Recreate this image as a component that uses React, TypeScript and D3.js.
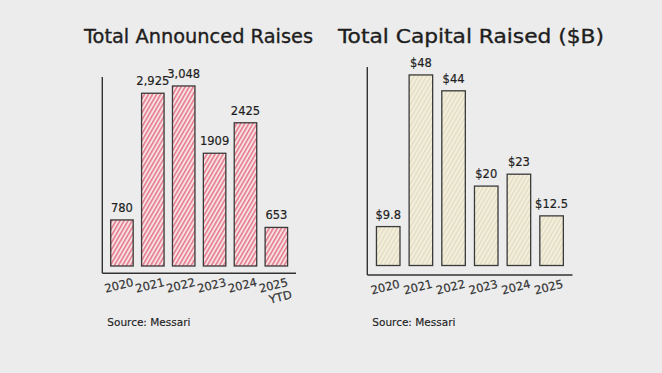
import React from "react";
import * as d3 from "d3";

const years = ["2020", "2021", "2022", "2023", "2024", "2025"];
const raisesCount = [780, 2925, 3048, 1909, 2425, 653];
const raisesLabels = ["780", "2,925", "3,048", "1909", "2425", "653"];
const capital = [9.8, 48, 44, 20, 23, 12.5];
const capitalLabels = ["$9.8", "$48", "$44", "$20", "$23", "$12.5"];
const leftTickLabels = ["2020", "2021", "2022", "2023", "2024", "2025\nYTD"];
const rightTickLabels = ["2020", "2021", "2022", "2023", "2024", "2025"];

const FONT = "'DejaVu Sans', sans-serif";
const INK = "#1e1e1e";

type PanelProps = {
  title: string;
  titleX: number;
  titleLen: number;
  values: number[];
  labels: string[];
  ticks: string[];
  x0: number;
  x1: number;
  axisTop: number;
  axisY: number;
  barBase: number;
  yMax: number;
  yTop: number;
  fillId: string;
  padding: number;
};

function Panel(p: PanelProps) {
  const x = d3.scaleBand<string>().domain(years).range([p.x0, p.x1]).padding(p.padding);
  const y = d3.scaleLinear().domain([0, p.yMax]).range([p.barBase, p.yTop]);
  const bw = x.bandwidth();
  return (
    <g>
      <text x={p.titleX} y={43} fontFamily={FONT} fontSize={19} fill={INK} stroke={INK} strokeWidth={0.35} textLength={p.titleLen} lengthAdjust="spacingAndGlyphs">
        {p.title}
      </text>
      {years.map((yr, i) => (
        <g key={yr}>
          <rect
            x={x(yr)!}
            y={y(p.values[i])}
            width={bw}
            height={p.barBase - y(p.values[i])}
            fill={`url(#${p.fillId})`}
            stroke="#3a3a3a"
            strokeWidth={1.3}
          />
          <text
            x={x(yr)! + bw / 2}
            y={y(p.values[i]) - 8}
            textAnchor="middle"
            fontFamily={FONT}
            fontSize={11.5}
            fill={INK}
            stroke={INK}
            strokeWidth={0.2}
          >
            {p.labels[i]}
          </text>
          <g transform={`translate(${x(yr)! + bw / 2 - 2},${p.axisY + 16}) rotate(-14)`}>
            {p.ticks[i].split("\n").map((line, j) => (
              <text key={j} x={j * 4} y={j * 13} textAnchor="middle" fontFamily={FONT} fontSize={11.5} fill="#333" stroke="#333" strokeWidth={0.2}>
                {line}
              </text>
            ))}
          </g>
        </g>
      ))}
      <line x1={p.x0} x2={p.x0} y1={p.axisTop} y2={p.axisY} stroke="#333" strokeWidth={1.4} />
      <line x1={p.x0} x2={p.x1} y1={p.axisY} y2={p.axisY} stroke="#333" strokeWidth={1.4} />
      <text x={p.x0 + 5} y={326} fontFamily={FONT} fontSize={10.5} fill={INK} stroke={INK} strokeWidth={0.15}>
        Source: Messari
      </text>
    </g>
  );
}

export default function App() {
  return (
    <svg width={662} height={373} style={{ position: "absolute", left: 0, top: 0, background: "#ececec" }}>
      <defs>
        <pattern id="hatchRed" width={3.5} height={3.5} patternUnits="userSpaceOnUse" patternTransform="rotate(30)">
          <rect width={3.5} height={3.5} fill="#f6e2e4" />
          <line x1={0.8} y1={0} x2={0.8} y2={3.5} stroke="#df4f66" strokeWidth={1.1} />
        </pattern>
        <pattern id="hatchBeige" width={3.6} height={3.6} patternUnits="userSpaceOnUse" patternTransform="rotate(30)">
          <rect width={3.6} height={3.6} fill="#f3efdd" />
          <line x1={0.8} y1={0} x2={0.8} y2={3.6} stroke="#ddd5b6" strokeWidth={1} />
        </pattern>
      </defs>
      <rect width={662} height={373} fill="#ececec" />
      <Panel
        title="Total Announced Raises"
        titleX={84}
        titleLen={229}
        values={raisesCount}
        labels={raisesLabels}
        ticks={leftTickLabels}
        x0={102.3}
        x1={296}
        axisTop={77}
        axisY={273.3}
        barBase={266}
        yMax={3200}
        yTop={77}
        fillId="hatchRed"
        padding={0.272}
      />
      <Panel
        title="Total Capital Raised ($B)"
        titleX={338}
        titleLen={266}
        values={capital}
        labels={capitalLabels}
        ticks={rightTickLabels}
        x0={367.3}
        x1={572.5}
        axisTop={67}
        axisY={275}
        barBase={265.5}
        yMax={50}
        yTop={67}
        fillId="hatchBeige"
        padding={0.28}
      />
    </svg>
  );
}
